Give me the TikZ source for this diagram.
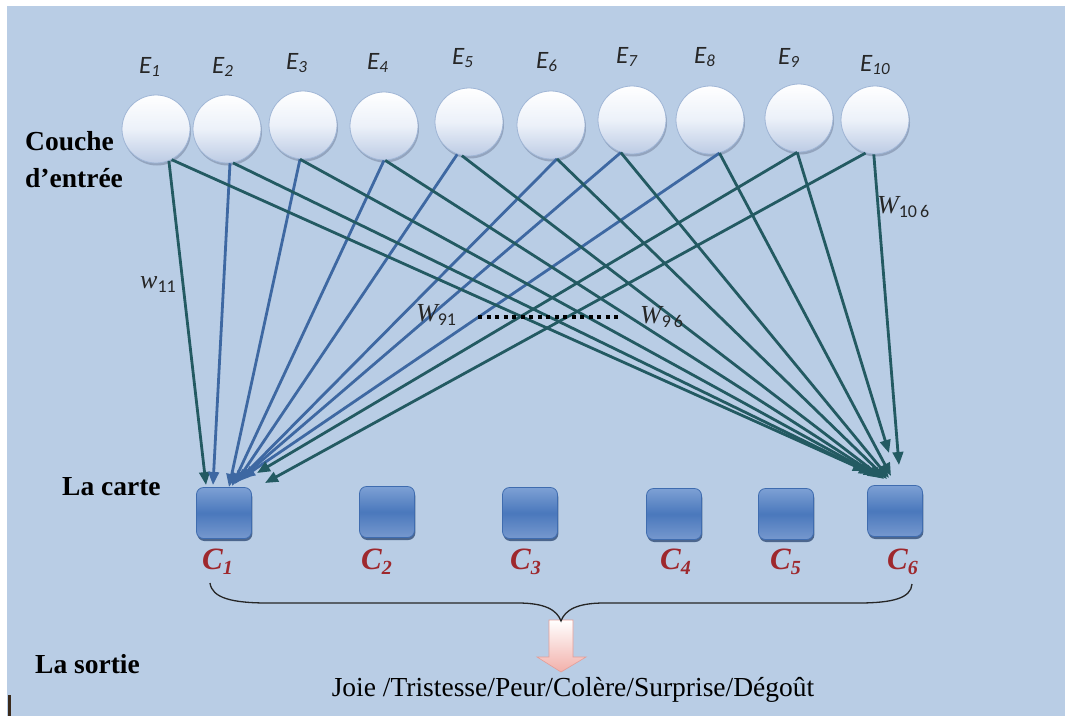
\documentclass[tikz,border=0pt]{standalone}
\usepackage{fontspec}
\setmainfont{Liberation Serif}
\newfontfamily\carlito{Carlito}
\usetikzlibrary{arrows.meta,shadows,calc}
\definecolor{bgblue}{RGB}{185,205,229}
\definecolor{tealc}{RGB}{35,90,98}
\definecolor{bluec}{RGB}{62,104,162}
\definecolor{cred}{RGB}{158,40,45}
\definecolor{cirborder}{RGB}{160,182,214}
\definecolor{cirbot}{RGB}{188,203,228}
\definecolor{cirmid}{RGB}{236,241,249}
\definecolor{cirshadow}{RGB}{110,125,152}
\definecolor{sqborder}{RGB}{63,108,175}
\definecolor{sqlight}{RGB}{125,160,212}
\definecolor{sqlight2}{RGB}{118,152,206}
\definecolor{sqmid}{RGB}{74,120,188}
\definecolor{sqshadow}{RGB}{40,68,112}
\definecolor{pinkc}{RGB}{242,176,170}
\definecolor{pinkborder}{RGB}{228,158,152}
\definecolor{darkbar}{RGB}{58,42,28}
\newcommand{\Elab}[1]{{\carlito\itshape\fontsize{25}{25}\selectfont E\raisebox{-3.5pt}{\fontsize{17}{17}\selectfont #1}}}
\newcommand{\Clab}[1]{{\fontsize{31}{31}\selectfont\bfseries\itshape C\raisebox{-5pt}{\fontsize{20}{20}\selectfont #1}}}
\newcommand{\Wlab}[2]{{\fontsize{26}{26}\selectfont\itshape #1}\raisebox{-4pt}{\carlito\fontsize{18}{18}\selectfont #2}}
\begin{document}
\begin{tikzpicture}[x=1pt,y=-1pt,
  inp/.style={circle,minimum size=68pt,inner sep=0pt,draw=cirborder,line width=0.8pt,
    top color=white,bottom color=cirbot,middle color=cirmid,
    drop shadow={shadow xshift=1pt,shadow yshift=-2.5pt,opacity=0.5,fill=cirshadow}},
  outc/.style={rectangle,rounded corners=7pt,minimum width=55pt,minimum height=51pt,inner sep=0pt,
    draw=sqborder,line width=0.8pt,top color=sqlight,bottom color=sqlight2,middle color=sqmid,
    drop shadow={shadow xshift=0.8pt,shadow yshift=-2.5pt,opacity=0.75,fill=sqshadow}},
  elabel/.style={anchor=base west,inner sep=0pt,text=black!85},
  clabel/.style={anchor=base west,inner sep=0pt,text=cred},
  side/.style={anchor=base west,inner sep=0pt,font=\fontsize{27.5}{27.5}\selectfont\bfseries},
  wlabel/.style={anchor=base west,inner sep=0pt,text=black!85},
  arr/.style={line width=2.8pt,-{Triangle[length=13pt,width=10.5pt]}},
  dotline/.style={line width=4pt,dash pattern=on 4pt off 4.5pt,black},
  brace/.style={line width=1.3pt,black!85}]
\useasboundingbox (0,0) rectangle (1065,716);
\fill[white] (0,0) rectangle (1065,716);
\fill[bgblue] (7,6) rectangle (1065,716);
\fill[darkbar] (8,695) rectangle (10.5,716);

% input neurons
\foreach \i/\x/\y in {1/156/129,2/227/129,3/303/125,4/384/126,5/469/122,6/551/125,7/632/120,8/710/120,9/799/118,10/875/120}
  \node[inp] (E\i) at (\x,\y) {};
% input labels
\foreach \i/\x/\y in {1/139/73,2/212/73,3/286/69,4/367/69,5/452/64,6/536/68,7/616/63,8/694/63,9/778/64,10/860/71}
  \node[elabel] (lE\i) at (\x,\y) {\Elab{\i}};

% map neurons
\foreach \i/\x/\y in {1/224/513,2/387/512,3/530/513,4/674/514,5/786/514,6/895/511}
  \node[outc] (C\i) at (\x,\y) {};
\foreach \i/\x in {1/202,2/361,3/510,4/660,5/770,6/887}
  \node[clabel] (lC\i) at (\x,569) {\Clab{\i}};

% connections to C1
\foreach \i/\s/\col/\ex/\ey in {1/-68/tealc/206/485,2/-85/bluec/213/485,3/-95/bluec/229/487,4/-90/bluec/232/486,5/-110/bluec/235/484,6/-80/bluec/237/482,7/-109/bluec/239/480,8/-74/bluec/242/478,9/-93/tealc/257/473,10/-106/tealc/265/483}{
  \coordinate (a\i) at (\ex,\ey);
  \draw[arr,\col] (E\i.\s) -- (a\i);
}
% connections to C6
\foreach \i/\s/\ex/\ey in {1/-63/866/471,2/-80/872/474,3/-95/877/476,4/-88/881/478,5/-102/884/479,6/-80/887/479,7/-109/889/478,8/-74/891/476,9/-93/889/453,10/-92/899/465}{
  \coordinate (b\i) at (\ex,\ey);
  \draw[arr,tealc] (E\i.\s) -- (b\i);
}

% weight labels
\node[wlabel] (w11) at (140,288) {\Wlab{w}{11}};
\node[wlabel] (w91) at (416,321) {\Wlab{W}{91}};
\node[wlabel] (w96) at (640,323) {\Wlab{W}{9\,6}};
\node[wlabel] (w106) at (877,213) {\Wlab{W}{10\,6}};
\coordinate (d1) at (478,317);
\coordinate (d2) at (622,317);
\draw[dotline] (d1) -- (d2);

% side labels
\node[side] (couche) at (25,150) {Couche};
\node[side] (entree) at (25,187) {d’entrée};
\node[side] (carte) at (62,495) {La carte};
\node[side] (sortie) at (35,673) {La sortie};

% output arrow
\shade[top color=white,bottom color=pinkc,draw=pinkborder,line width=0.6pt]
  (549,620) -- (573,620) -- (573,657) -- (586,657) -- (561,672) -- (537,657) -- (549,657) -- cycle;

% brace
\coordinate (bl) at (210,583);
\coordinate (bt) at (561,621);
\coordinate (br) at (912,584);
\draw[brace] (bl) .. controls (212,598) and (232,603) .. (268,603) -- (518,603)
  .. controls (545,603) and (557,610) .. (bt)
  .. controls (565,610) and (577,603) .. (604,603) -- (858,603)
  .. controls (893,603) and (911,598) .. (br);

% output text
\node[inner sep=0pt,font=\fontsize{27.5}{27.5}\selectfont] (out) at (573,690) {Joie /Tristesse/Peur/Colère/Surprise/Dégoût};
\end{tikzpicture}
\end{document}
